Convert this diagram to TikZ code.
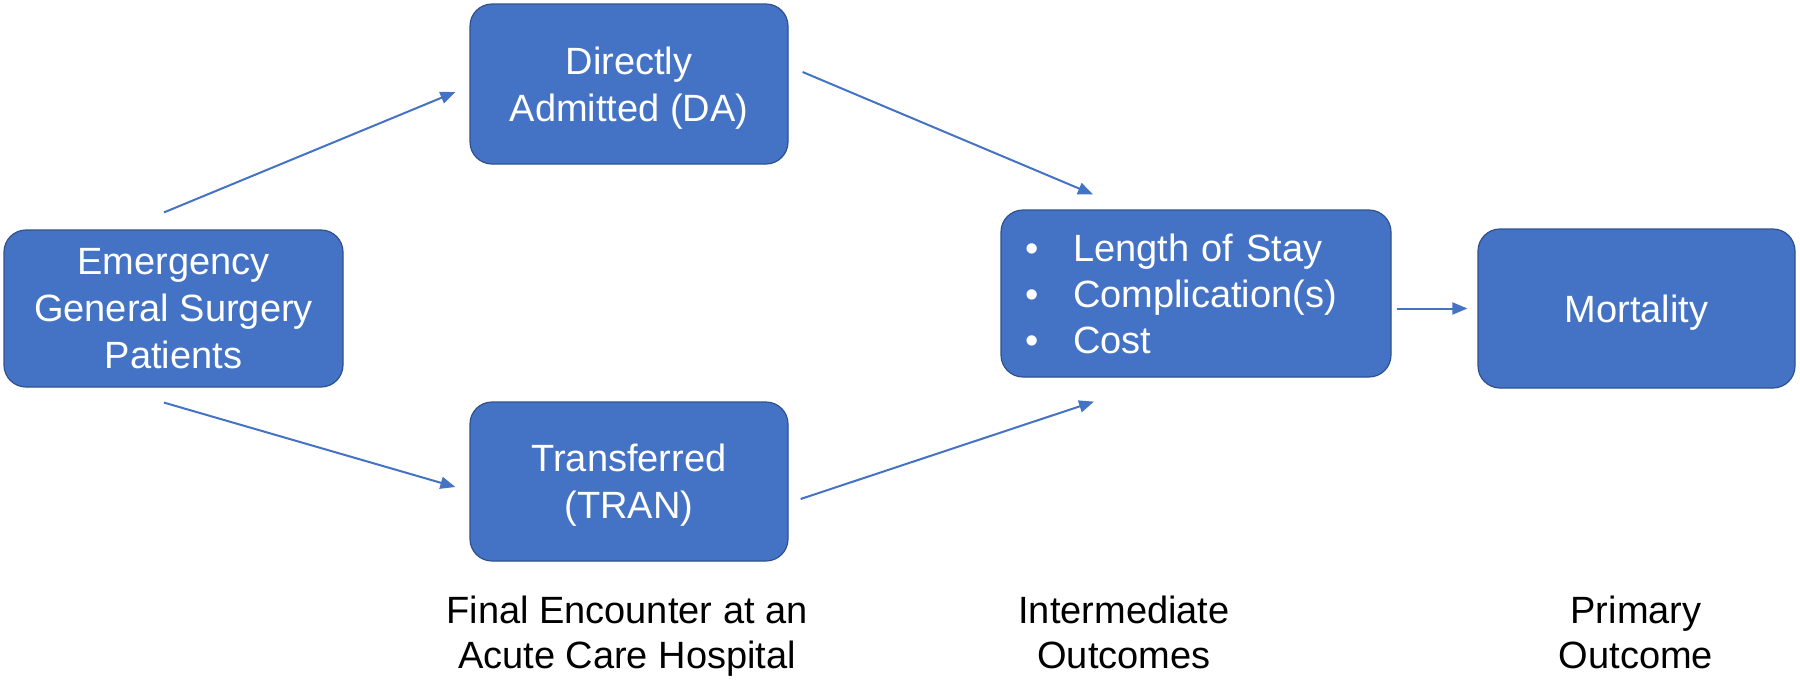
\documentclass[tikz,border=0pt]{standalone}
\usepackage{fontspec}
\setmainfont{Liberation Sans}
\usetikzlibrary{arrows.meta}
\definecolor{boxblue}{HTML}{4472C4}
\definecolor{boxedge}{HTML}{2F528F}
\definecolor{arrblue}{HTML}{4472C4}
\begin{document}
\begin{tikzpicture}[x=1pt,y=-1pt,
  boxbase/.style={draw=boxedge,line width=1.2pt,fill=boxblue,rounded corners=22pt,
    text=white,align=center,font=\fontsize{38}{47}\selectfont,inner sep=0pt},
  box/.style={boxbase,text depth=0pt},
  arr/.style={draw=arrblue,line width=2pt,-{Triangle[length=15pt,width=12pt]}},
  caption/.style={align=center,font=\fontsize{38}{45}\selectfont,text=black,text depth=0pt,inner sep=0pt}]
\useasboundingbox (0,0) rectangle (1800,686);
\node[box,minimum width=339pt,minimum height=157pt] (em) at (173.5,308.5) {Emergency\\General Surgery\\Patients};
\node[box,minimum width=318pt,minimum height=160pt] (da) at (629,84) {Directly\\Admitted (DA)};
\node[box,minimum width=318pt,minimum height=159pt] (tr) at (629,481.5) {Transferred\\(TRAN)};
\node[boxbase,align=left,text width=342pt,inner xsep=24pt,minimum height=167pt,
  font=\fontsize{38}{46}\selectfont] (mid) at (1196,293.5)
  {\makebox[48pt][l]{•}Length of Stay\\\makebox[48pt][l]{•}Complication(s)\\\makebox[48pt][l]{•}Cost};
\node[box,minimum width=317pt,minimum height=159pt] (mort) at (1636.5,308.5) {Mortality};
\node[caption] (c1) at (627,632) {Final Encounter at an\\Acute Care Hospital};
\node[caption] (c2) at (1124,632) {Intermediate\\Outcomes};
\node[caption] (c3) at (1636,632) {Primary\\Outcome};
\draw[arr] ([shift={(-9.5,-17)}]em.north) -- ([shift={(-14,8)}]da.west);
\draw[arr] ([shift={(-9.5,15)}]em.south) -- ([shift={(-14,5.5)}]tr.west);
\draw[arr] ([shift={(14,-12)}]da.east) -- ([shift={(-103,-15)}]mid.north);
\draw[arr] ([shift={(12,17.5)}]tr.east) -- ([shift={(-102,24)}]mid.south);
\draw[arr] ([xshift=5pt]mid.east |- mort.west) -- ([xshift=-10pt]mort.west);
\end{tikzpicture}
\end{document}
